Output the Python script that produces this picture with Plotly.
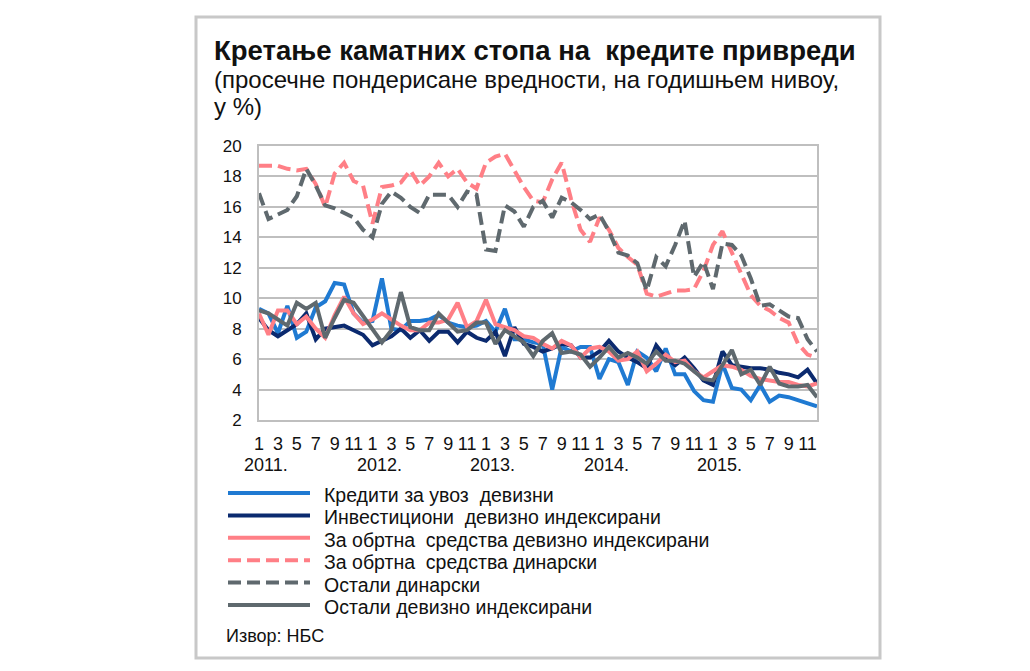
import plotly.graph_objects as go

# Периоди (месеци 2011-2015)
years = ["2011.", "2012.", "2013.", "2014.", "2015."]
periods = [f"{2011 + k // 12}-{k % 12 + 1:02d}" for k in range(60)]
month_ticks = ["1", "3", "5", "7", "9", "11"]

# Серије (у %)
uvoz_devizni = [9.3, 9.0, 7.7, 9.5, 7.4, 7.8, 9.4, 9.8, 11.0, 10.9, 9.0, 8.4,
                8.5, 11.3, 8.0, 7.9, 8.5, 8.5, 8.6, 8.9, 8.4, 8.2, 8.1, 8.2,
                8.5, 7.8, 9.3, 7.3, 7.3, 7.1, 7.0, 4.0, 6.8, 6.5, 6.8, 6.8,
                4.7, 6.0, 5.8, 4.3, 6.5, 6.1, 5.2, 6.7, 5.0, 5.0, 3.9, 3.3,
                3.2, 5.7, 4.1, 4.0, 3.3, 4.3, 3.2, 3.6, 3.5, 3.3, 3.1, 2.9]
investicioni = [8.7, 7.9, 7.5, 7.9, 8.3, 9.0, 7.3, 8.0, 8.1, 8.2, 7.9, 7.6,
                6.9, 7.2, 7.5, 8.0, 7.4, 7.9, 7.2, 7.8, 7.8, 7.1, 7.8, 7.4,
                7.2, 7.8, 6.2, 8.1, 7.0, 6.8, 6.5, 6.7, 7.0, 6.9, 6.1, 6.1,
                6.5, 7.2, 6.5, 6.1, 5.8, 5.4, 6.9, 6.1, 5.6, 6.1, 5.4, 4.6,
                4.3, 6.5, 5.6, 5.5, 5.4, 5.4, 5.3, 5.1, 5.0, 4.8, 5.3, 4.4]
obrtna_devizno = [9.0, 7.6, 9.2, 9.2, 8.3, 8.8, 8.0, 7.4, 8.9, 10.1, 9.0, 8.3,
                  8.6, 9.0, 8.6, 8.2, 7.9, 7.9, 8.4, 8.4, 8.6, 9.7, 8.1, 8.5,
                  9.9, 8.3, 8.1, 7.9, 7.5, 7.4, 7.0, 6.7, 7.2, 6.9, 6.1, 6.7,
                  6.8, 6.5, 5.9, 6.0, 6.5, 5.2, 5.7, 6.3, 5.8, 5.9, 5.2, 4.8,
                  5.2, 5.6, 5.5, 5.3, 4.9, 4.7, 4.6, 4.5, 4.5, 4.3, 4.2, 4.4]
obrtna_dinarski = [18.7, 18.7, 18.7, 18.5, 18.4, 18.5, 17.5, 16.0, 18.2, 18.9, 17.7, 17.4,
                   14.9, 17.3, 17.4, 17.6, 18.4, 17.4, 18.0, 18.9, 18.0, 18.5, 17.6, 17.2,
                   18.9, 19.3, 19.5, 18.4, 17.3, 16.4, 16.3, 17.8, 18.9, 16.5, 14.5, 13.7,
                   15.3, 14.5, 13.3, 12.7, 12.2, 10.3, 10.1, 10.3, 10.5, 10.5, 10.6, 11.8,
                   13.5, 14.4, 13.0, 11.6, 10.2, 9.5, 9.2, 8.7, 8.4, 7.0, 6.3, 6.1]
ostali_dinarski = [16.9, 15.2, 15.5, 15.8, 16.7, 18.5, 17.4, 16.1, 15.9, 15.6, 15.3, 14.5,
                   14.0, 16.2, 17.0, 16.6, 16.0, 15.6, 16.8, 16.8, 16.8, 16.0, 17.0, 16.8,
                   13.2, 13.1, 16.1, 15.7, 14.7, 16.0, 16.4, 15.3, 16.6, 16.3, 15.8, 15.2,
                   15.5, 14.4, 13.0, 12.8, 12.3, 10.5, 12.7, 12.1, 13.5, 15.1, 11.4, 12.4,
                   10.6, 13.6, 13.5, 12.8, 11.3, 9.5, 9.6, 9.2, 8.8, 8.7, 7.3, 6.5]
ostali_devizno = [9.2, 9.0, 8.6, 8.2, 9.7, 9.3, 9.7, 7.4, 8.7, 9.9, 9.7, 8.8,
                  7.9, 7.1, 7.9, 10.4, 8.1, 7.9, 7.9, 9.0, 8.4, 7.8, 7.9, 8.4,
                  8.4, 7.0, 7.9, 7.5, 7.1, 6.2, 7.2, 7.7, 6.4, 6.5, 6.3, 5.5,
                  6.1, 6.8, 6.1, 6.4, 6.1, 5.7, 6.5, 5.9, 5.9, 5.7, 5.2, 4.7,
                  4.6, 5.6, 6.6, 5.0, 5.3, 4.3, 5.5, 4.4, 4.2, 4.2, 4.3, 3.5]

series = [
    ("Кредити за увоз  девизни", uvoz_devizni, "#1f7ad2", "solid"),
    ("Инвестициони  девизно индексирани", investicioni, "#0b2a6f", "solid"),
    ("За обртна  средства девизно индексирани", obrtna_devizno, "#ff7f86", "solid"),
    ("За обртна  средства динарски", obrtna_dinarski, "#ff7f86", "13px,6px"),
    ("Остали динарски", ostali_dinarski, "#5f696e", "13px,6px"),
    ("Остали девизно индексирани", ostali_devizno, "#5f696e", "solid"),
]

FONT = "Liberation Sans, Arial, sans-serif"

# плот на екрану: 259..817 px хоризонтално, 146..420 px вертикално
def px_x(px):
    return (px - 259) / 558

def px_y(py):
    return (420 - py) / 274

fig = go.Figure()
for name, vals, color, dash in series:
    fig.add_trace(go.Scatter(
        x=periods, y=vals, name=name, mode="lines",
        line=dict(color=color, width=4, dash=dash),
        showlegend=False,
    ))

# ручна легенда
for k, (name, vals, color, dash) in enumerate(series):
    yl = 493 + 22.4 * k
    fig.add_shape(type="line", xref="paper", yref="paper",
                  x0=px_x(228), x1=px_x(310), y0=px_y(yl), y1=px_y(yl),
                  line=dict(color=color, width=4, dash=dash))
    fig.add_annotation(xref="paper", yref="paper", x=px_x(322), y=px_y(yl + 2),
                       text=name, showarrow=False, xanchor="left", yanchor="middle",
                       font=dict(size=19.5, color="#111111", family=FONT))

# године испод месеци
for k, yr in enumerate(years):
    fig.add_annotation(xref="x", yref="paper", x=periods[12 * k], y=px_y(465),
                       text=yr, showarrow=False, xanchor="center", yanchor="middle",
                       xshift=7, font=dict(size=18, color="#111111", family=FONT))

# наслов
fig.add_annotation(xref="paper", yref="paper", x=px_x(212), y=px_y(50),
                   text="<b>Кретање каматних стопа на  кредите привреди</b>",
                   showarrow=False, xanchor="left", yanchor="middle",
                   font=dict(size=27.5, color="#111111", family=FONT))
fig.add_annotation(xref="paper", yref="paper", x=px_x(212), y=px_y(80),
                   text="(просечне пондерисане вредности, на годишњем нивоу,",
                   showarrow=False, xanchor="left", yanchor="middle",
                   font=dict(size=24, color="#111111", family=FONT))
fig.add_annotation(xref="paper", yref="paper", x=px_x(212), y=px_y(107),
                   text="у %)", showarrow=False, xanchor="left", yanchor="middle",
                   font=dict(size=24, color="#111111", family=FONT))
fig.add_annotation(xref="paper", yref="paper", x=px_x(224), y=px_y(636),
                   text="Извор: НБС", showarrow=False, xanchor="left", yanchor="middle",
                   font=dict(size=18, color="#111111", family=FONT))

# оквир
fig.add_shape(type="rect", xref="paper", yref="paper",
              x0=px_x(196), x1=px_x(880), y0=px_y(658), y1=px_y(17),
              line=dict(color="#c8c8c8", width=3), layer="below")

fig.update_xaxes(
    type="category", range=[0, 59],
    tickvals=[p for p in periods if int(p[5:]) % 2 == 1],
    ticktext=month_ticks * 5,
    showgrid=False, showline=True, mirror=True, linecolor="#bfbfbf", linewidth=2,
    ticks="", ticklabelstandoff=6,
    tickfont=dict(size=18, color="#111111", family=FONT),
)
fig.update_yaxes(
    range=[2, 20], dtick=2, showgrid=True, gridcolor="#bfbfbf", gridwidth=2,
    showline=True, mirror=True, linecolor="#bfbfbf", linewidth=2,
    zeroline=False, ticks="", ticklabelstandoff=12,
    tickfont=dict(size=17, color="#111111", family=FONT),
)
# страница додаје 8 px маргине, па је плот померен за толико
fig.update_layout(
    width=1030, height=671,
    margin=dict(l=251, r=221, t=138, b=259),
    paper_bgcolor="white", plot_bgcolor="white",
    font=dict(family=FONT),
)

fig.write_html("out.html")
